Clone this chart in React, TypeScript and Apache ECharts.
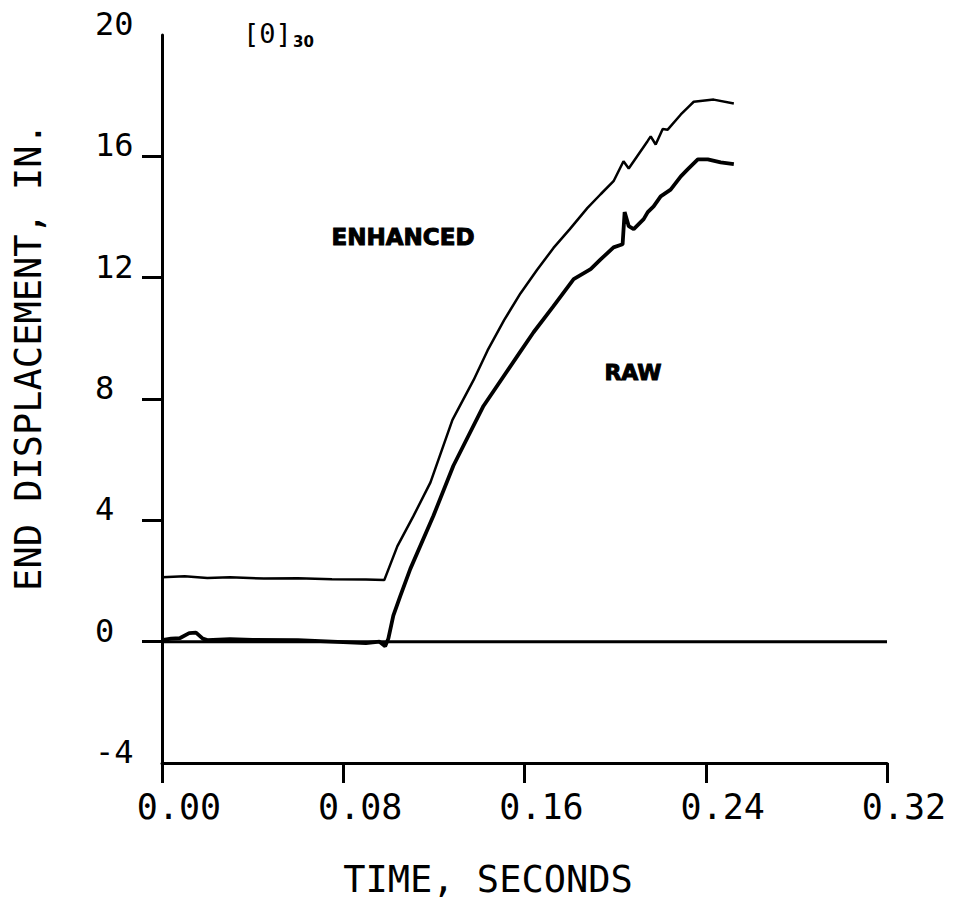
import React, { useEffect, useRef } from "react";
import * as echarts from "echarts";

// ---- data ----
const xTickValues = [0, 0.08, 0.16, 0.24, 0.32];
const yTickMarks = [0, 4, 8, 12, 16];

const enhancedT = [0, 0.01, 0.02, 0.03, 0.045, 0.06, 0.075, 0.09, 0.0981, 0.1039, 0.1109, 0.1185, 0.1282, 0.1375, 0.1437, 0.151, 0.1582, 0.1655, 0.1728, 0.18, 0.1878, 0.1936, 0.1993, 0.2037, 0.206, 0.2143, 0.2157, 0.2179, 0.221, 0.2232, 0.229, 0.2325, 0.2347, 0.2435, 0.2524];
const enhancedV = [2.12, 2.16, 2.1, 2.12, 2.08, 2.09, 2.06, 2.05, 2.03, 3.15, 4.13, 5.25, 7.31, 8.62, 9.6, 10.6, 11.48, 12.25, 12.98, 13.6, 14.3, 14.75, 15.18, 15.84, 15.6, 16.5, 16.66, 16.39, 16.9, 16.88, 17.38, 17.64, 17.8, 17.87, 17.74];

const rawT = [0, 0.004, 0.008, 0.012, 0.015, 0.018, 0.02, 0.03, 0.04, 0.06, 0.075, 0.09, 0.096, 0.0985, 0.0999, 0.1021, 0.1052, 0.1096, 0.1198, 0.1286, 0.1419, 0.1569, 0.164, 0.1728, 0.1817, 0.1892, 0.1936, 0.1993, 0.2033, 0.2042, 0.206, 0.2082, 0.2126, 0.2144, 0.217, 0.2201, 0.2245, 0.229, 0.232, 0.2365, 0.2409, 0.2466, 0.2524];
const rawV = [0.05, 0.1, 0.12, 0.28, 0.3, 0.1, 0.05, 0.08, 0.06, 0.05, 0.0, -0.05, 0.0, -0.15, 0.1, 0.86, 1.51, 2.4, 4.15, 5.8, 7.77, 9.42, 10.2, 11.06, 11.95, 12.28, 12.6, 13.0, 13.1, 14.16, 13.7, 13.6, 13.93, 14.16, 14.35, 14.68, 14.9, 15.34, 15.57, 15.9, 15.9, 15.8, 15.74];

const zeroT = [0, 0.32];
const zeroV = [0, 0];

const pairs = (t: number[], v: number[]) => t.map((x, i) => [x, v[i]]);

const MONO = "DejaVu Sans Mono";

export default function App() {
  const ref = useRef<HTMLDivElement>(null);
  useEffect(() => {
    if (!ref.current) return;
    const chart = echarts.init(ref.current, undefined, { renderer: "svg" });
    chart.setOption({
      animation: false,
      backgroundColor: "#fff",
      grid: { left: 162, right: 72, top: 35, bottom: 141 },
      xAxis: {
        type: "value",
        min: 0,
        max: 0.32,
        interval: 0.08,
        axisLine: { onZero: false, lineStyle: { color: "#000", width: 3 } },
        axisTick: { length: 20, lineStyle: { color: "#000", width: 3 } },
        splitLine: { show: false },
        axisLabel: {
          formatter: (v: number) => v.toFixed(2),
          customValues: xTickValues,
          color: "#000",
          fontFamily: MONO,
          fontSize: 35,
          margin: 44,
          verticalAlign: "middle",
          padding: [0, 0, 0, 34],
        },
      },
      yAxis: {
        type: "value",
        min: -4,
        max: 20,
        interval: 4,
        axisLine: { onZero: false, lineStyle: { color: "#000", width: 3 } },
        axisTick: { customValues: yTickMarks, length: 20, lineStyle: { color: "#000", width: 3 } },
        splitLine: { show: false },
        axisLabel: {
          color: "#000",
          fontFamily: MONO,
          fontSize: 32,
          align: "left",
          margin: 67,
          verticalAlign: "bottom",
          lineHeight: 22,
        },
      },
      series: [
        {
          name: "zero",
          type: "line",
          data: pairs(zeroT, zeroV),
          symbol: "none",
          lineStyle: { color: "#000", width: 3 },
        },
        {
          name: "ENHANCED",
          type: "line",
          data: pairs(enhancedT, enhancedV),
          symbol: "none",
          lineStyle: { color: "#000", width: 2.5 },
        },
        {
          name: "RAW",
          type: "line",
          data: pairs(rawT, rawV),
          symbol: "none",
          lineStyle: { color: "#000", width: 3.8 },
        },
      ],
      graphic: [
        {
          type: "text",
          left: 243,
          top: 20,
          style: { text: "[0]", font: `27px '${MONO}'`, fill: "#000" },
        },
        {
          type: "text",
          left: 293,
          top: 34,
          style: { text: "30", font: `900 15px 'DejaVu Sans'`, fill: "#000" },
        },
        {
          type: "text",
          x: 403,
          y: 237,
          style: { text: "ENHANCED", font: `900 23px 'DejaVu Sans'`, fill: "#000", align: "center", verticalAlign: "middle", stroke: "#000", lineWidth: 1 },
        },
        {
          type: "text",
          x: 633,
          y: 372,
          style: { text: "RAW", font: `900 22px 'DejaVu Sans'`, fill: "#000", align: "center", verticalAlign: "middle", stroke: "#000", lineWidth: 1 },
        },
        {
          type: "text",
          x: 488,
          y: 879,
          style: { text: "TIME, SECONDS", font: `37px '${MONO}'`, fill: "#000", align: "center", verticalAlign: "middle" },
        },
        {
          type: "text",
          x: 28,
          y: 357,
          rotation: Math.PI / 2,
          style: { text: "END DISPLACEMENT, IN.", font: `37px '${MONO}'`, fill: "#000", align: "center", verticalAlign: "middle" },
        },
      ],
    });
    return () => chart.dispose();
  }, []);
  return <div ref={ref} style={{ position: "fixed", left: 0, top: 0, width: 959, height: 904 }} />;
}
